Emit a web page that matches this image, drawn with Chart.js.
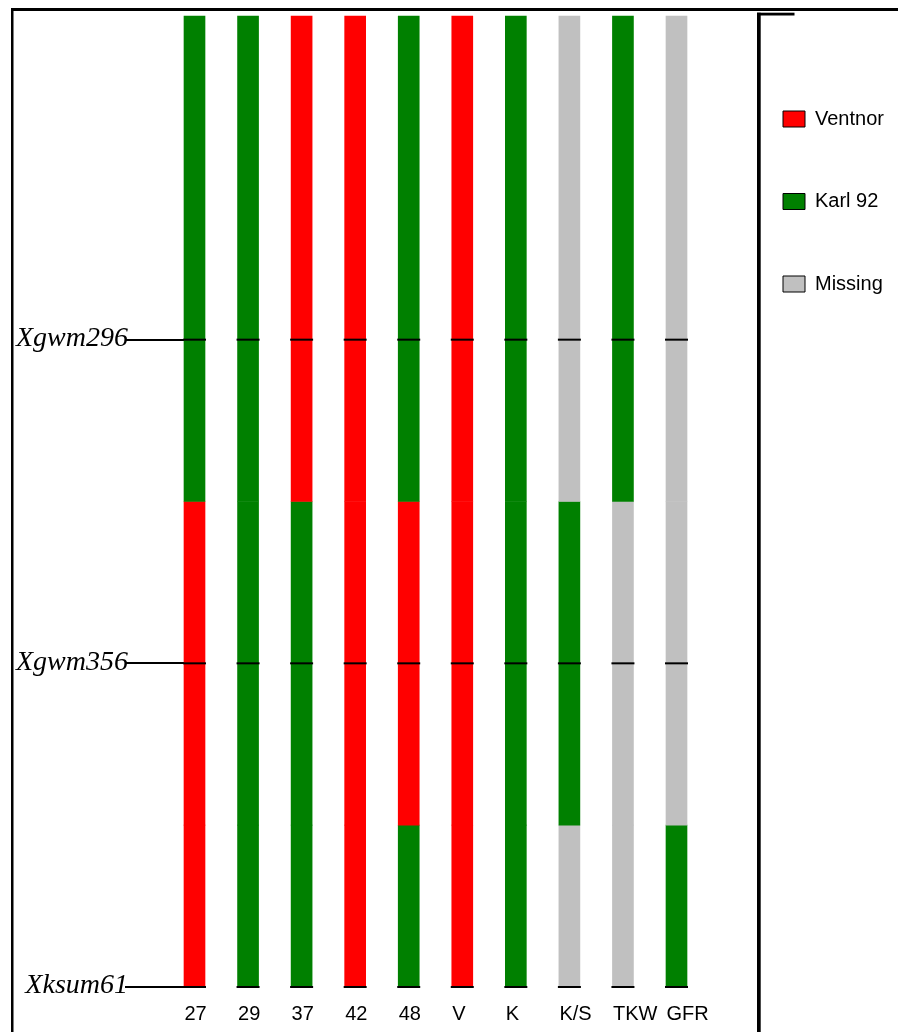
<!DOCTYPE html>
<html>
<head>
<meta charset="utf-8">
<script src="https://cdn.jsdelivr.net/npm/chart.js@4.4.1/dist/chart.umd.min.js"></script>
<style>
  html, body { margin: 0; padding: 0; background: #ffffff; }
  #chart { display: block; }
</style>
</head>
<body>
<canvas id="chart" width="898" height="1032"></canvas>
<script>
// Lines and traits shown as columns
const columns = ['27', '29', '37', '42', '48', 'V', 'K', 'K/S', 'TKW', 'GFR'];

// Markers and their positions along the map (in marker intervals from the top)
const markerNames = ['Xgwm296', 'Xgwm356', 'Xksum61'];
const markerPositions = [1, 2, 3];

// Boundaries of the three chromosome segments
const segmentBounds = [0, 1.5, 2.5, 3];

// Parental origin of each segment per column: V = Ventnor, K = Karl 92, M = missing
const segmentTop    = ['K', 'K', 'V', 'V', 'K', 'V', 'K', 'M', 'K', 'M'];
const segmentMiddle = ['V', 'K', 'K', 'V', 'V', 'V', 'K', 'K', 'M', 'M'];
const segmentBottom = ['V', 'K', 'K', 'V', 'K', 'V', 'K', 'M', 'M', 'K'];

// Legend entries
const genotypeCodes = ['V', 'K', 'M'];
const genotypeNames = ['Ventnor', 'Karl 92', 'Missing'];

const genotypeColors = { V: '#ff0000', K: '#008000', M: '#c0c0c0' };
const SANS = "'Liberation Sans', Arial, Helvetica, sans-serif";
const SERIF = "'Liberation Serif', 'Times New Roman', Times, serif";

const segments = [segmentTop, segmentMiddle, segmentBottom];

const barDatasets = segments.map((codes, k) => ({
  type: 'bar',
  label: 'segment ' + (k + 1),
  data: columns.map(() => [segmentBounds[k], segmentBounds[k + 1]]),
  backgroundColor: codes.map(c => genotypeColors[c]),
  borderWidth: 0,
  barThickness: 21,
  grouped: false,
  clip: false,
  order: 1
}));

// Short black ticks marking each marker position on every column
const markerDataset = {
  type: 'line',
  label: 'markers',
  data: columns.flatMap(c => markerPositions.map(p => ({ x: c, y: p }))),
  showLine: false,
  pointStyle: 'line',
  pointRadius: 11.5,
  pointHoverRadius: 11.5,
  pointBorderColor: '#000000',
  pointBackgroundColor: '#000000',
  pointBorderWidth: 2,
  clip: false,
  order: 0
};

// Outer frame and the bracket separating the legend
const framePlugin = {
  id: 'frame',
  afterDraw(chart) {
    const c = chart.ctx;
    c.save();
    c.fillStyle = '#000000';
    c.fillRect(11, 8, 887, 3);
    c.fillRect(11, 8, 2.5, 1024);
    c.fillRect(757, 12.7, 37.5, 2.8);
    c.fillRect(757, 12.7, 3.7, 1020);
    c.restore();
  }
};

new Chart(document.getElementById('chart'), {
  type: 'bar',
  data: {
    labels: columns,
    datasets: [markerDataset, ...barDatasets]
  },
  options: {
    responsive: false,
    animation: false,
    devicePixelRatio: 1,
    layout: { padding: { top: 16, left: 0, right: 9.5, bottom: 0 } },
    plugins: {
      tooltip: { enabled: false },
      legend: {
        position: 'right',
        align: 'start',
        maxWidth: 168,
        title: { display: true, text: '', font: { size: 10, lineHeight: 1 }, padding: { top: 20.5, bottom: 0 } },
        labels: {
          boxWidth: 22,
          boxHeight: 16,
          padding: 62.5,
          color: '#000000',
          font: { family: SANS, size: 20 },
          generateLabels: () => genotypeNames.map((name, i) => ({
            text: name,
            fillStyle: genotypeColors[genotypeCodes[i]],
            strokeStyle: '#000000',
            fontColor: '#000000',
            lineWidth: 1,
            hidden: false
          }))
        }
      }
    },
    scales: {
      x: {
        type: 'category',
        offset: false,
        position: 'bottom',
        grid: { display: false, drawTicks: false },
        border: { display: false },
        ticks: {
          align: 'start',
          labelOffset: -10,
          padding: 15,
          color: '#000000',
          autoSkip: false,
          maxRotation: 0,
          font: { family: SANS, size: 20 }
        },
        afterFit: s => { s.height = 45; }
      },
      y: {
        type: 'linear',
        position: 'left',
        reverse: true,
        min: 0,
        max: 3,
        afterBuildTicks: s => { s.ticks = markerPositions.map(v => ({ value: v })); },
        ticks: {
          callback: v => markerNames[markerPositions.indexOf(v)],
          padding: -3,
          labelOffset: -1,
          autoSkip: false,
          color: '#000000',
          font: { family: SERIF, size: 28, style: 'italic' }
        },
        grid: { display: true, drawOnChartArea: false, drawTicks: true, tickLength: 69.5, color: '#000000', lineWidth: 2 },
        border: { display: false },
        afterFit: s => { s.width = 194.5; }
      },
      yR: {
        type: 'linear',
        position: 'right',
        display: true,
        min: 0,
        max: 1,
        ticks: { display: false },
        grid: { display: false, drawTicks: false },
        border: { display: false },
        afterFit: s => { s.width = 44; }
      }
    }
  },
  plugins: [framePlugin]
});
</script>
</body>
</html>
